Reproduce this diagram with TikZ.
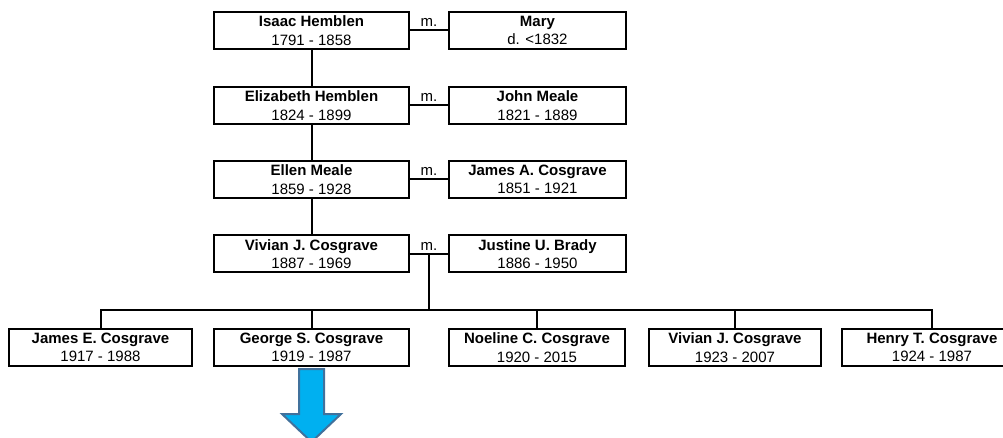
\documentclass[tikz,border=0pt]{standalone}
\usepackage{fontspec}
\setmainfont{Liberation Sans}
\usepackage{tikz}
\usetikzlibrary{calc}
\definecolor{arrowblue}{HTML}{00B0F0}
\definecolor{arrowedge}{HTML}{41719C}

\begin{document}
\begin{tikzpicture}[
  person/.style={draw,line width=1.5pt,minimum height=27.75pt,
                 inner sep=1pt,align=center,
                 font=\fontsize{11.25}{14}\selectfont},
  link/.style={line width=1.5pt},
  wed/.style={above=2pt,inner sep=0pt,font=\fontsize{11.25}{14}\selectfont},
  x=0.75pt,y=-0.75pt
]
\useasboundingbox (0,0) rectangle (1003,438);

% ancestors, left column
\node[person,minimum width=146.25pt] (IH) at (311.5, 30.5) {\textbf{Isaac Hemblen}\\1791 - 1858};
\node[person,minimum width=146.25pt] (EH) at (311.5,105.5) {\textbf{Elizabeth Hemblen}\\1824 - 1899};
\node[person,minimum width=146.25pt] (EM) at (311.5,179.5) {\textbf{Ellen Meale}\\1859 - 1928};
\node[person,minimum width=146.25pt] (VC) at (311.5,254)   {\textbf{Vivian J. Cosgrave}\\1887 - 1969};

% spouses, right column
\node[person,minimum width=132.75pt] (MA) at (537.5, 30.5) {\textbf{Mary}\\d. <1832};
\node[person,minimum width=132.75pt] (JM) at (537.5,105.5) {\textbf{John Meale}\\1821 - 1889};
\node[person,minimum width=132.75pt] (JC) at (537.5,179.5) {\textbf{James A. Cosgrave}\\1851 - 1921};
\node[person,minimum width=132.75pt] (JB) at (537.5,254)   {\textbf{Justine U. Brady}\\1886 - 1950};

% children
\node[person,minimum width=137.25pt] (c1) at (100.5,347.5) {\textbf{James E. Cosgrave}\\1917 - 1988};
\node[person,minimum width=146.25pt] (c2) at (311.5,347.5) {\textbf{George S. Cosgrave}\\1919 - 1987};
\node[person,minimum width=132pt]    (c3) at (537,  347.5) {\textbf{Noeline C. Cosgrave}\\1920 - 2015};
\node[person,minimum width=129pt]    (c4) at (735,  347.5) {\textbf{Vivian J. Cosgrave}\\1923 - 2007};
\node[person,minimum width=135pt]    (c5) at (932,  347.5) {\textbf{Henry T. Cosgrave}\\1924 - 1987};

% marriages
\draw[link] (IH.east) -- node[wed]{m.} (MA.west);
\draw[link] (EH.east) -- node[wed]{m.} (JM.west);
\draw[link] (EM.east) -- node[wed]{m.} (JC.west);
\draw[link] (VC.east) -- node[wed]{m.} (JB.west);

% descent
\draw[link] (IH.south) -- (EH.north);
\draw[link] (EH.south) -- (EM.north);
\draw[link] (EM.south) -- (VC.north);

\coordinate (fam) at ($(VC.east)!.5!(JB.west)$);
\coordinate (bus) at (0,310);
\draw[link] (fam) -- (fam |- bus);
\draw[link] (c1.north) -- (c1.north |- bus) -- (c5.north |- bus) -- (c5.north);
\foreach \c in {c2,c3,c4}
  \draw[link] (\c.north) -- (\c.north |- bus);

% continued below
\draw[fill=arrowblue,draw=arrowedge,line width=1.5pt]
  (299,369) -- (324,369) -- (324,414) -- (341,414) -- (311.5,442)
  -- (282,414) -- (299,414) -- cycle;
\end{tikzpicture}
\end{document}
